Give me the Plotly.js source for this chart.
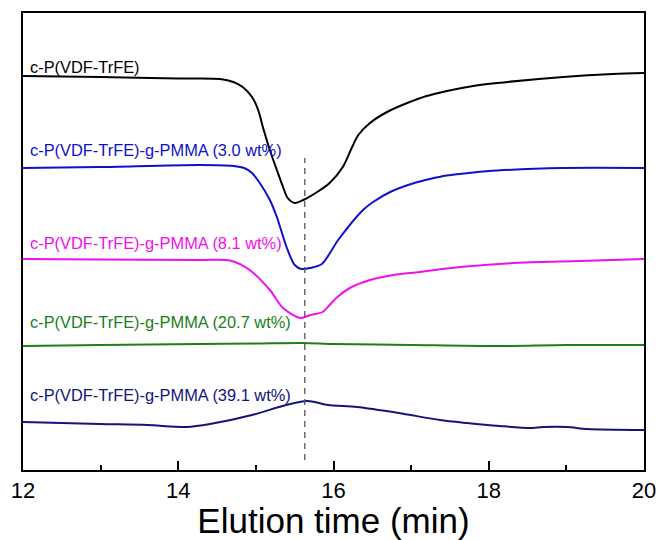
<!DOCTYPE html>
<html>
<head>
<meta charset="utf-8">
<script src="https://cdn.plot.ly/plotly-3.0.1.min.js"></script>
<style>html,body{margin:0;padding:0;background:#fff;}#chart{width:659px;height:540px;}</style>
</head>
<body>
<div id="chart"></div>
<script>
// Elution time (min) and detector signal (offset, arbitrary units) per sample
const seriesNames = [
  "c-P(VDF-TrFE)",
  "c-P(VDF-TrFE)-g-PMMA (3.0 wt%)",
  "c-P(VDF-TrFE)-g-PMMA (8.1 wt%)",
  "c-P(VDF-TrFE)-g-PMMA (20.7 wt%)",
  "c-P(VDF-TrFE)-g-PMMA (39.1 wt%)"
];
const seriesColors = ["#000000", "#1010cc", "#ee10ee", "#1a801a", "#14147a"];

const x0 = [12.00,13.00,14.00,14.54,14.71,14.83,14.95,15.03,15.09,15.18,15.27,15.35,15.41,15.50,15.61,15.79,15.95,16.12,16.24,16.32,16.47,16.69,16.95,17.20,17.46,17.80,18.11,18.96,19.60,20.00];
const y0 = [394,393,391.5,391,388,383,373,360,343,320,300,283,272,267,270,278,287,303,323,335,347,358,367,374,379,384,387,393,396,397];

const x1 = [12.00,12.99,14.28,14.71,14.85,14.95,15.05,15.18,15.27,15.40,15.50,15.59,15.70,15.85,16.06,16.38,16.51,16.73,17.02,17.24,17.46,17.80,18.11,18.96,20.00];
const y1 = [302,303,305,304,302,297,287,270,253,222,205,201,202,206,230,260,268,278,286.5,291,294.5,297.5,299.5,302,302];

const x2 = [12.00,13.00,14.28,14.67,14.92,15.18,15.35,15.57,15.70,15.86,15.95,16.05,16.21,16.47,16.77,17.11,17.63,18.31,19.18,20.00];
const y2 = [211,210.5,210,209.5,200,180,162,152,155,158,165,173,182,190,195,198,203,207,209,211];

const x3 = [12.00,13.00,14.28,15.00,15.60,16.00,17.00,18.10,19.00,20.00];
const y3 = [124,125,126,126.5,127,126,125,124,125,125];

const x4 = [12.00,12.99,13.60,14.11,14.41,14.95,15.39,15.66,15.76,15.93,16.30,16.84,17.37,17.72,18.14,18.53,18.70,19.01,19.27,20.00];
const y4 = [48,46,45,43,46,55,65,69,68,65,63,57,50,47,44,42,43,43,41,40];

const seriesX = [x0, x1, x2, x3, x4];
const seriesY = [y0, y1, y2, y3, y4];

// Reference peak position (dashed line)
const dashX = [15.63, 15.63];
const dashY = [10, 312];

// Label anchors (elution time, signal)
const labelX = [12.06, 12.06, 12.06, 12.06, 12.06];
const labelY = [403, 320, 227, 148, 75];

const tickVals = [12, 14, 16, 18, 20];
const tickText = ["12", "14", "16", "18", "20"];

const traces = seriesX.map((xs, i) => ({
  x: xs, y: seriesY[i], type: "scatter", mode: "lines",
  line: {color: seriesColors[i], width: 2, shape: "spline", smoothing: 0.8},
  name: seriesNames[i], hoverinfo: "skip"
}));
traces.push({
  x: dashX, y: dashY, type: "scatter", mode: "lines",
  line: {color: "#555555", width: 1.3, dash: "6px,5px"}, hoverinfo: "skip"
});

const annotations = seriesNames.map((t, i) => ({
  x: labelX[i], y: labelY[i], xref: "x", yref: "y", text: t,
  showarrow: false, xanchor: "left", yanchor: "middle",
  font: {family: "Liberation Sans, Arial, sans-serif", size: 16.4, color: seriesColors[i]}
}));

const layout = {
  width: 659, height: 540,
  margin: {l: 23, r: 15, t: 13, b: 70},
  paper_bgcolor: "#ffffff", plot_bgcolor: "#ffffff",
  showlegend: false,
  font: {family: "Liberation Sans, Arial, sans-serif", color: "#000"},
  xaxis: {
    range: [12, 20], tickvals: tickVals, ticktext: tickText,
    ticks: "inside", ticklen: 9, tickwidth: 2, tickcolor: "#000",
    minor: {dtick: 1, ticks: "inside", ticklen: 5, tickwidth: 2, tickcolor: "#000", showgrid: false},
    showline: true, linecolor: "#000", linewidth: 2, mirror: true,
    showgrid: false, zeroline: false,
    tickfont: {size: 22, color: "#000"},
    title: {text: "Elution time (min)", font: {size: 35, color: "#000"}, standoff: 7},
    automargin: false
  },
  yaxis: {
    range: [0, 457], showticklabels: false, ticks: "",
    showline: true, linecolor: "#000", linewidth: 2, mirror: true,
    showgrid: false, zeroline: false, automargin: false
  },
  annotations: annotations
};

Plotly.newPlot("chart", traces, layout, {displayModeBar: false, staticPlot: true});
</script>
</body>
</html>
